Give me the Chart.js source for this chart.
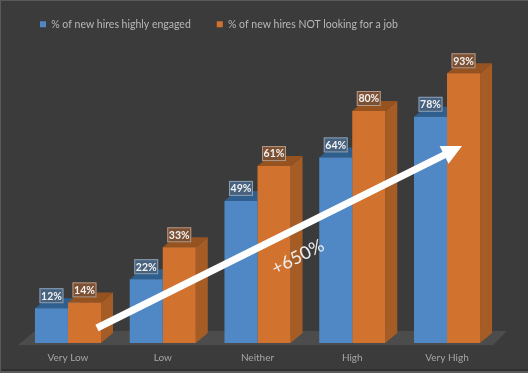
<!DOCTYPE html>
<html>
<head>
<meta charset="utf-8">
<style>
  html, body { margin: 0; padding: 0; background: #3b3b3b; }
  canvas { display: block; }
</style>
<script src="https://cdn.jsdelivr.net/npm/chart.js@4"></script>
</head>
<body>
<canvas id="chart" width="528" height="373"></canvas>
<script>
// Datos
const categories = ["Very Low", "Low", "Neither", "High", "Very High"];
const engaged = [12, 22, 49, 64, 78];
const notLooking = [14, 33, 61, 80, 93];
const seriesNames = ["% of new hires highly engaged", "% of new hires NOT looking for a job"];
const growthLabel = "+650%";

const FONT = "Lato, 'Open Sans', sans-serif";
const DEPTH_X = 12;
const DEPTH_Y = 10;

// Caras laterales y superiores de cada dataset
const sideColors = ["#3c6d9f", "#a65c25"];
const topColors = ["#2f5f8e", "#96531f"];
const labelFills = ["#47627e", "#7c5033"];
const labelBorders = ["#8d9fb2", "#b39a88"];

function polygon(ctx, pts, color) {
  ctx.fillStyle = color;
  ctx.beginPath();
  pts.forEach((p, i) => (i ? ctx.lineTo(p[0], p[1]) : ctx.moveTo(p[0], p[1])));
  ctx.closePath();
  ctx.fill();
}

const fakeThreeD = {
  id: "fakeThreeD",
  beforeLayout(chart) {
    // altura fija de la leyenda para que el area del grafico empiece en y=53
    const legend = chart.legend;
    if (legend && !legend.fitWrapped) {
      const fit = legend.fit;
      legend.fit = function () {
        fit.call(this);
        this.height = 53;
        this.minSize && (this.minSize.height = 53);
      };
      legend.fitWrapped = true;
    }
  },
  beforeDraw(chart) {
    const ctx = chart.ctx;
    // fondo y marco
    ctx.fillStyle = "#3b3b3b";
    ctx.fillRect(0, 0, 528, 373);
    ctx.fillStyle = "#5a5a5a";
    ctx.fillRect(0, 0, 528, 1);
    ctx.fillRect(0, 0, 1, 373);
    ctx.fillRect(0, 371, 528, 2);
    ctx.fillStyle = "#2f2f2f";
    ctx.fillRect(1, 369, 527, 2);
    // mover la leyenda a su sitio
    chart.legend.left = 14;
    chart.legend.top = -7;
  },
  beforeDatasetsDraw(chart) {
    const ctx = chart.ctx;
    const bottom = chart.scales.y.getPixelForValue(0);
    // suelo
    polygon(ctx, [[18, bottom + 2], [35, bottom - 12], [507, bottom - 12], [493, bottom + 2]], "#4c4c4c");
    chart.data.datasets.forEach((ds, d) => {
      chart.getDatasetMeta(d).data.forEach((bar) => {
        const l = bar.x - bar.width / 2, r = bar.x + bar.width / 2;
        polygon(ctx, [[r, bar.y], [r + DEPTH_X, bar.y - DEPTH_Y], [r + DEPTH_X, bar.base - DEPTH_Y], [r, bar.base]], sideColors[d]);
        polygon(ctx, [[l, bar.y], [l + DEPTH_X, bar.y - DEPTH_Y], [r + DEPTH_X, bar.y - DEPTH_Y], [r, bar.y]], topColors[d]);
      });
    });
  },
  afterDatasetsDraw(chart) {
    const ctx = chart.ctx;
    // etiquetas de valor
    chart.data.datasets.forEach((ds, d) => {
      chart.getDatasetMeta(d).data.forEach((bar, i) => {
        const w = 24, h = 15, x = bar.x - w / 2, y = bar.y - 20;
        ctx.fillStyle = labelFills[d];
        ctx.fillRect(x, y, w, h);
        ctx.strokeStyle = labelBorders[d];
        ctx.lineWidth = 1;
        ctx.strokeRect(x + 0.5, y + 0.5, w - 1, h - 1);
        ctx.fillStyle = "#f2f2f2";
        ctx.font = "bold 10.5px " + FONT;
        ctx.textAlign = "center";
        ctx.textBaseline = "middle";
        ctx.fillText(ds.data[i] + "%", bar.x, y + h / 2 + 0.5);
      });
    });
    // flecha
    ctx.save();
    ctx.translate(97, 328);
    ctx.rotate(Math.atan2(146 - 328, 462 - 97));
    const len = Math.hypot(462 - 97, 146 - 328);
    ctx.fillStyle = "#ffffff";
    ctx.fillRect(0, -3.5, len - 18, 7);
    polygon(ctx, [[len - 20, -10], [len, 0], [len - 20, 10]], "#ffffff");
    ctx.restore();
    // texto del crecimiento
    ctx.save();
    ctx.translate(298, 257);
    ctx.rotate(-27 * Math.PI / 180);
    ctx.fillStyle = "#efefef";
    ctx.font = "18px " + FONT;
    ctx.textAlign = "center";
    ctx.textBaseline = "middle";
    ctx.fillText(growthLabel, 0, 0);
    ctx.restore();
  }
};

const ctx = document.getElementById("chart").getContext("2d");
const miGrafico = new Chart(ctx, {
  type: "bar",
  data: {
    labels: categories,
    datasets: [
      { label: seriesNames[0], data: engaged, backgroundColor: "#4f88c4" },
      { label: seriesNames[1], data: notLooking, backgroundColor: "#d2722f" }
    ]
  },
  options: {
    responsive: false,
    animation: false,
    datasets: { bar: { categoryPercentage: 0.697, barPercentage: 1 } },
    layout: { padding: { left: 20.6, right: 33.6, top: 0, bottom: 0 } },
    scales: {
      x: {
        grid: { display: false, drawTicks: false },
        border: { display: false },
        ticks: { color: "#a6a6a6", font: { family: FONT, size: 10 }, padding: 9, maxRotation: 0 }
      },
      y: { display: false, min: 0, max: 100 }
    },
    plugins: {
      tooltip: { enabled: false },
      legend: {
        position: "top",
        align: "start",
        labels: {
          color: "#b8b8b8",
          boxWidth: 6,
          boxHeight: 6,
          padding: 26,
          font: { family: FONT, size: 10.5 }
        }
      }
    }
  },
  plugins: [fakeThreeD]
});
</script>
</body>
</html>
